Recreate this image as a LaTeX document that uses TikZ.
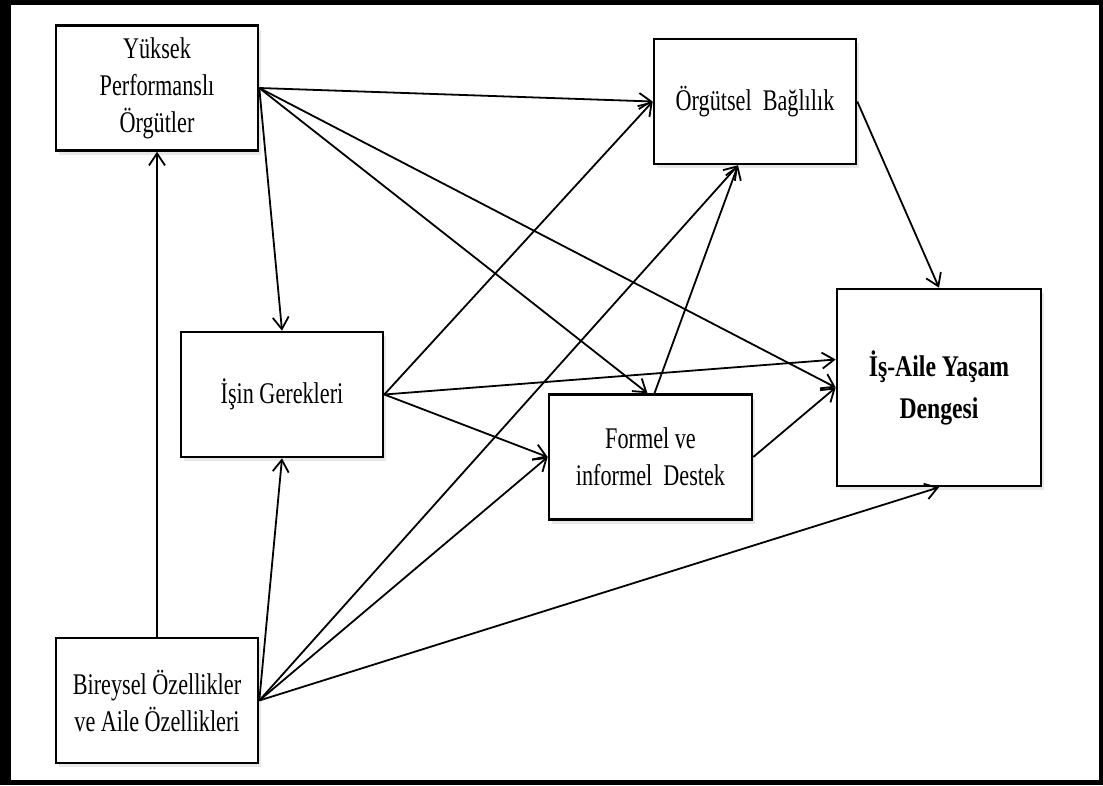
\documentclass[tikz,border=0pt]{standalone}
\usepackage{fontspec}
\setmainfont{Liberation Serif}[FakeStretch=0.74, BoldFeatures={FakeStretch=0.79}]
\usepackage{tikz}
\usetikzlibrary{arrows.meta,shadows}
\tikzstyle{block} = [rectangle, draw, fill=white, line width=2.6pt,
                 inner sep=0pt, align=center,
                 minimum width=202pt, minimum height=125pt,
                 font=\fontsize{30}{37}\selectfont,
                 drop shadow={opacity=0.18, shadow xshift=3pt, shadow yshift=-4pt}]
\tikzstyle{branch} = [draw, line width=1.8pt,
                 -{Straight Barb[length=12pt, width=16pt]}]

\begin{document}
\begin{tikzpicture}[x=1pt, y=-1pt]

\useasboundingbox (0,0) rectangle (1103,785);
    	%frame
\fill[black] (0,0) rectangle (1103,785);
\fill[white] (11,5) rectangle (1099,780);

\node [block] at (157,88) (yuksek) {Yüksek\\Performanslı\\Örgütler};
\node [block] at (755,101.5) (orgutsel) {Örgütsel~ Bağlılık};
\node [block] at (282,394.5) (isin) {İşin Gerekleri};
\node [block, minimum width=203pt] at (650.5,457) (formel) {Formel ve\\informel~ Destek};
\node [block, minimum width=204pt, minimum height=197pt,
       font=\fontsize{30}{42}\selectfont\bfseries] at (939,387.5) (denge) {İş-Aile Yaşam\\Dengesi};
\node [block] at (157,700.5) (bireysel) {Bireysel Özellikler\\ve Aile Özellikleri};

\path [branch] (bireysel.north) -- (yuksek.south);
\path [branch] (yuksek.east) -- (orgutsel.west);
\path [branch] (yuksek.east) -- (isin.north);
\path [branch] (yuksek.east) -- ([xshift=-3pt]formel.north);
\path [branch] (yuksek.east) -- (denge.west);
\path [branch] (orgutsel.east) -- (denge.north);
\path [branch] (isin.east) -- (orgutsel.west);
\path [branch] (isin.east) -- ([yshift=28pt]denge.west);
\path [branch] (isin.east) -- (formel.west);
\path [branch] ([xshift=4pt]formel.north) -- ([xshift=-17pt]orgutsel.south);
\path [branch] (formel.east) -- (denge.west);
\path [branch] (bireysel.east) -- (isin.south);
\path [branch] (bireysel.east) -- ([xshift=-17pt]orgutsel.south);
\path [branch] (bireysel.east) -- (formel.west);
\path [branch] (bireysel.east) -- (denge.south);

\end{tikzpicture}
\end{document}
